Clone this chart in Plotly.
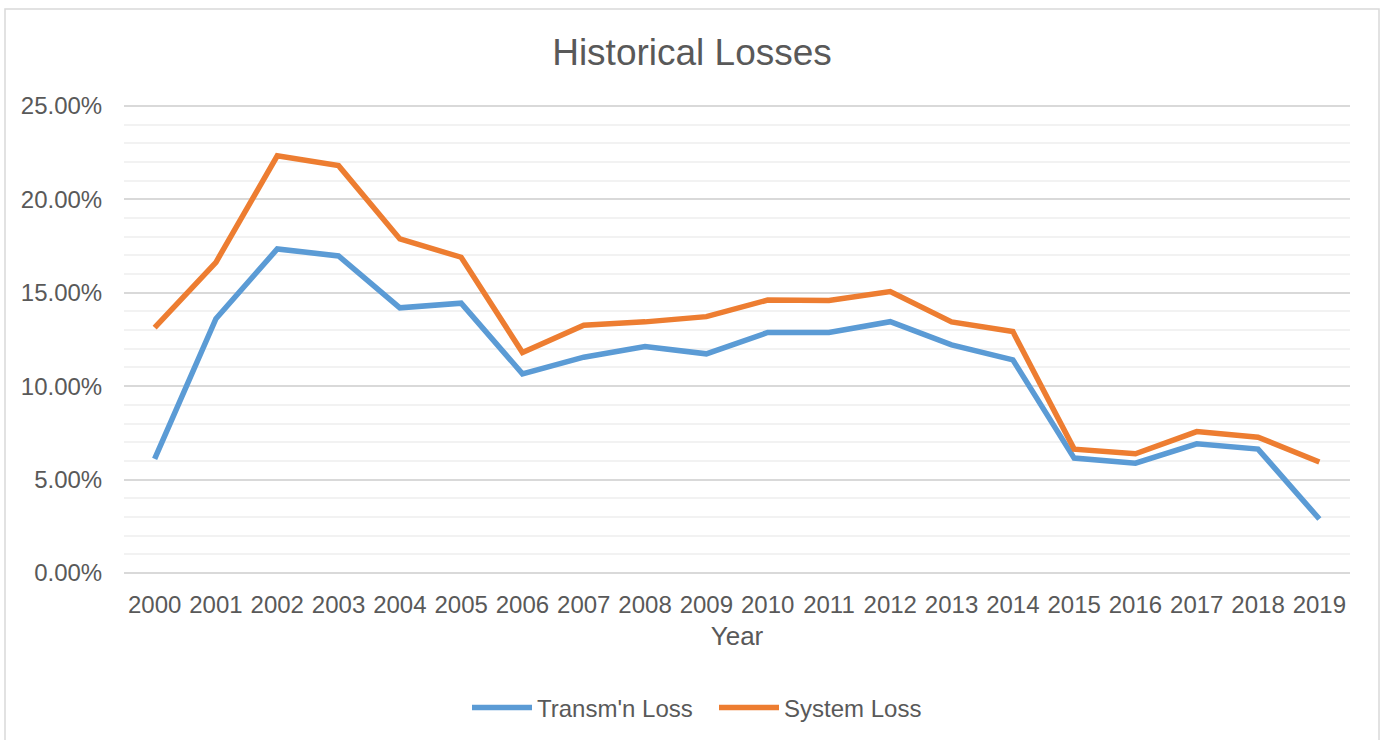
import plotly.graph_objects as go

years = list(range(2000, 2020))
transmn_loss = [6.11, 13.61, 17.34, 16.97, 14.19, 14.44, 10.66, 11.55, 12.12, 11.73,
                12.87, 12.87, 13.45, 12.21, 11.41, 6.15, 5.88, 6.91, 6.63, 2.89]
system_loss = [13.13, 16.63, 22.33, 21.80, 17.88, 16.90, 11.80, 13.26, 13.44, 13.72,
               14.61, 14.58, 15.06, 13.44, 12.92, 6.63, 6.38, 7.57, 7.27, 5.94]
y_ticks = [0, 5, 10, 15, 20, 25]
y_tick_labels = ["0.00%", "5.00%", "10.00%", "15.00%", "20.00%", "25.00%"]
x_tick_labels = [str(y) for y in years]

FONT = "Liberation Sans, Arial, sans-serif"
GRAY = "#595959"

fig = go.Figure()
fig.add_trace(go.Scatter(x=years, y=transmn_loss, mode="lines", name="Transm'n Loss",
                         line=dict(color="#5B9BD5", width=5.5, shape="linear")))
fig.add_trace(go.Scatter(x=years, y=system_loss, mode="lines", name="System Loss",
                         line=dict(color="#ED7D31", width=5.5, shape="linear")))

L, R, T, B = 124, 34, 104, 167
W, H = 1384, 740
pw = W - L - R
ph = H - T - B

fig.update_layout(
    width=W, height=H,
    margin=dict(l=L, r=R, t=T, b=B, autoexpand=False),
    paper_bgcolor="white", plot_bgcolor="white",
    font=dict(family=FONT, color=GRAY, size=24),
    title=dict(text="Historical Losses", x=0.5, xanchor="center", y=1 - 52 / H,
               yanchor="middle", yref="container",
               font=dict(family=FONT, size=37, color=GRAY)),
    showlegend=True,
    legend=dict(orientation="h", x=0.5 - 23 / pw, xanchor="center", xref="paper",
                y=-(708 - (T + ph)) / ph, yanchor="middle",
                font=dict(family=FONT, size=24, color=GRAY),
                itemwidth=60, entrywidth=172, tracegroupgap=0),
    xaxis=dict(range=[1999.5, 2019.5], tickvals=years, ticktext=x_tick_labels,
               showgrid=False, zeroline=False, showline=False, automargin=False,
               ticks="outside", ticklen=10, tickcolor="rgba(0,0,0,0)",
               tickfont=dict(family=FONT, size=24, color=GRAY),
               title=dict(text="Year", font=dict(family=FONT, size=26, color=GRAY), standoff=10),
               fixedrange=True),
    yaxis=dict(range=[0, 25.1], tickvals=y_ticks, ticktext=y_tick_labels,
               showgrid=True, gridcolor="#D9D9D9", gridwidth=1.5,
               zeroline=True, zerolinecolor="#D9D9D9", zerolinewidth=1.5,
               showline=False, automargin=False,
               minor=dict(dtick=1, showgrid=True, gridcolor="#F2F2F2", gridwidth=1.5),
               ticks="outside", ticklen=16, tickcolor="rgba(0,0,0,0)",
               tickfont=dict(family=FONT, size=24, color=GRAY),
               fixedrange=True),
    shapes=[dict(type="rect", xref="paper", yref="paper",
                 x0=(5 - L) / pw, x1=(1379 - L) / pw,
                 y0=-(745 - (T + ph)) / ph, y1=((T + ph) - 9) / ph,
                 line=dict(color="#D9D9D9", width=1.5), fillcolor="rgba(0,0,0,0)",
                 layer="below")],
)

fig.write_html("out.html", config={"displayModeBar": False},
               post_script="document.body.style.margin='0';")
